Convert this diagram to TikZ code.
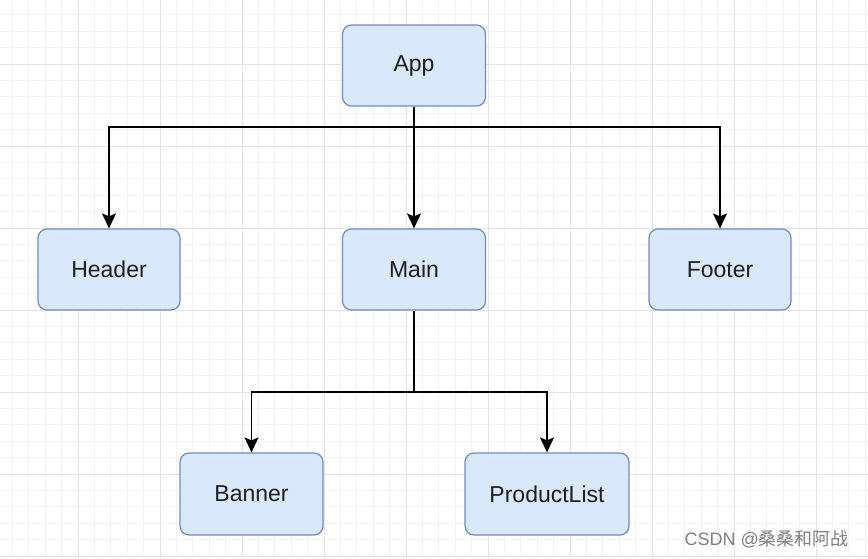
\documentclass[tikz,border=0pt]{standalone}
\usepackage{fontspec}
\setmainfont{Liberation Sans}
\newfontfamily\cjk{Noto Sans CJK SC}
\usetikzlibrary{arrows.meta}
\definecolor{boxfill}{HTML}{DAE8FC}
\definecolor{boxdraw}{HTML}{6C8EBF}
\definecolor{minorgrid}{HTML}{F2F2F2}
\definecolor{majorgrid}{HTML}{E3E3E3}
\definecolor{txt}{HTML}{1E1E1E}
\tikzset{
  blk/.style={draw=boxdraw, fill=boxfill, line width=1.2pt, rounded corners=9pt,
    minimum height=81pt, inner sep=0pt, text=txt,
    font=\fontsize{23}{27}\selectfont},
  conn/.style={line width=1.8pt, -{Stealth[length=15pt,width=14pt,inset=3pt]}},
  plain/.style={line width=1.8pt}
}
\begin{document}
\begin{tikzpicture}[x=1pt,y=-1pt]
\useasboundingbox (0,0) rectangle (868,558);
\fill[white] (0,0) rectangle (868,558);
\foreach \i in {0,...,55} {
  \draw[minorgrid, line width=0.8pt] ({-4+16.4*\i},0) -- ({-4+16.4*\i},558);
}
\foreach \i in {0,...,36} {
  \draw[minorgrid, line width=0.8pt] (0,{-18+16.4*\i}) -- (868,{-18+16.4*\i});
}
\foreach \i in {1,...,11} {
  \draw[majorgrid, line width=1pt] ({-4+82*\i},0) -- ({-4+82*\i},558);
}
\foreach \i in {1,...,7} {
  \draw[majorgrid, line width=1pt] (0,{-18+82*\i}) -- (868,{-18+82*\i});
}
\node[blk, minimum width=143pt] (app) at (414,65.5) {App};
\node[blk, minimum width=142pt] (header) at (109,269.5) {Header};
\node[blk, minimum width=143pt] (main) at (414,269.5) {Main};
\node[blk, minimum width=142pt] (footer) at (720,269.5) {Footer};
\node[blk, minimum width=143pt, minimum height=82pt] (banner) at (251.5,494) {Banner};
\node[blk, minimum width=164pt, minimum height=82pt] (plist) at (547,494) {ProductList};
\coordinate (j1) at (414,127);
\coordinate (j2) at (414,392);
\draw[plain] (app.south) -- (j1);
\draw[conn] (j1) -- (main.north);
\draw[conn] (j1) -| (header.north);
\draw[conn] (j1) -| (footer.north);
\draw[plain] (main.south) -- (j2);
\draw[conn] (j2) -| (banner.north);
\draw[conn] (j2) -| (plist.north);
\node[anchor=east, text=black!50, font=\fontsize{18}{20}\selectfont, inner sep=0pt] (wm) at (849,539) {CSDN @{\cjk 桑桑和阿战}};
\end{tikzpicture}
\end{document}
